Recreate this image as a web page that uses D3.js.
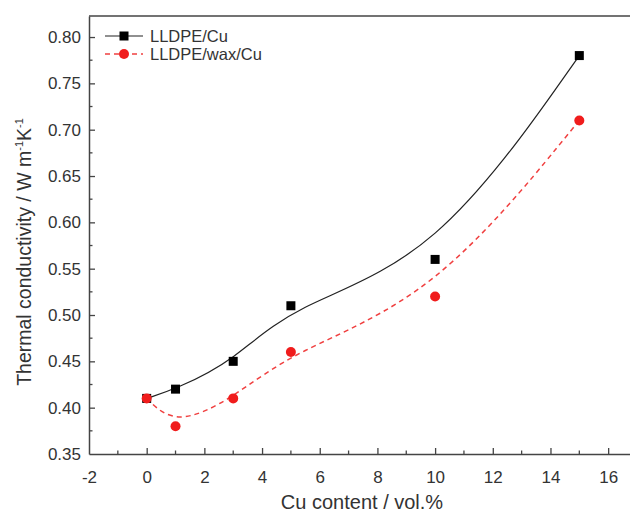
<!DOCTYPE html>
<html>
<head>
  <meta charset="utf-8">
  <style>
    body, html { margin: 0; padding: 0; background: #fff; }
    svg { display: block; }
    text { font-family: "Liberation Sans", Arial, sans-serif; fill: #333; }
  </style>
</head>
<body>
  <svg id="svg" width="630" height="513"></svg>
  <script src="https://d3js.org/d3.v7.min.js"></script>
  <script>
    const cuContent = [0, 1, 3, 5, 10, 15]
    const lldpeCu = [0.41, 0.42, 0.45, 0.51, 0.56, 0.78]
    const lldpeWaxCu = [0.41, 0.38, 0.41, 0.46, 0.52, 0.71]
    const xTicks = [-2, 0, 2, 4, 6, 8, 10, 12, 14, 16]
    const yTicks = [0.35, 0.40, 0.45, 0.50, 0.55, 0.60, 0.65, 0.70, 0.75, 0.80]
    const seriesNames = ["LLDPE/Cu", "LLDPE/wax/Cu"]

    const plotLeft = 89, plotRight = 637, plotTop = 16, plotBottom = 454
    const svg = d3.select("#svg")

    const x = d3.scaleLinear().domain([-2, 17]).range([plotLeft, plotRight])
    const y = d3.scaleLinear().domain([0.35, 0.8227]).range([plotBottom, plotTop])

    const axisColor = "#444"

    // top frame line
    svg.append("line").attr("x1", plotLeft).attr("x2", 630).attr("y1", plotTop).attr("y2", plotTop)
      .attr("stroke", axisColor).attr("stroke-width", 1.5)

    const xMinor = d3.range(-1, 17, 2)
    const yMinor = d3.range(0.375, 0.81, 0.05)

    const xAxis = d3.axisBottom(x).tickValues(xTicks).tickFormat(d => String(d))
      .tickSizeInner(-6).tickSizeOuter(0).tickPadding(17)
    const gx = svg.append("g").attr("transform", `translate(0,${plotBottom})`).call(xAxis)
    gx.selectAll(".tick").filter(d => d === -2).select("line").remove()
    gx.selectAll("line.minor").data(xMinor).enter().append("line").attr("class", "minor")
      .attr("x1", d => x(d)).attr("x2", d => x(d)).attr("y1", 0).attr("y2", -3.5)
      .attr("stroke", axisColor).attr("stroke-width", 1.3)

    const yAxis = d3.axisLeft(y).tickValues(yTicks).tickFormat(d3.format(".2f"))
      .tickSizeInner(-6).tickSizeOuter(0).tickPadding(8)
    const gy = svg.append("g").attr("transform", `translate(${plotLeft},0)`).call(yAxis)
    gy.selectAll(".tick").filter(d => d === 0.35).select("line").remove()
    gy.selectAll("line.minor").data(yMinor).enter().append("line").attr("class", "minor")
      .attr("x1", 0).attr("x2", 3.5).attr("y1", d => y(d)).attr("y2", d => y(d))
      .attr("stroke", axisColor).attr("stroke-width", 1.3)

    svg.selectAll(".domain").attr("stroke", axisColor).attr("stroke-width", 1.5)
    svg.selectAll(".tick line").attr("stroke", axisColor).attr("stroke-width", 1.3)
    svg.selectAll(".tick text").attr("font-size", 17).style("fill", "#333")
      .attr("font-family", "Liberation Sans, Arial, sans-serif")

    // axis titles
    svg.append("text")
      .attr("x", 362).attr("y", 509)
      .attr("text-anchor", "middle").attr("font-size", 20)
      .text("Cu content / vol.%")

    const yl = svg.append("text")
      .attr("transform", "translate(31,252) rotate(-90)")
      .attr("text-anchor", "middle").attr("font-size", 19.5)
    yl.append("tspan").text("Thermal conductivity / W m")
    yl.append("tspan").attr("dy", -8).attr("font-size", 11).text("-1")
    yl.append("tspan").attr("dy", 8).text("K")
    yl.append("tspan").attr("dy", -8).attr("font-size", 11).text("-1")

    // curves
    const line = d3.line()
      .x(d => x(d[0]))
      .y(d => y(d[1]))
      .curve(d3.curveBasis)

    const blackPts = cuContent.map((c, i) => [c, lldpeCu[i]])
    const redPts = cuContent.map((c, i) => [c, lldpeWaxCu[i]])

    svg.append("path").attr("d", line(blackPts))
      .attr("fill", "none").attr("stroke", "#222").attr("stroke-width", 1.2)
    svg.append("path").attr("d", line(redPts))
      .attr("fill", "none").attr("stroke", "#f04040").attr("stroke-width", 1.5)
      .attr("stroke-dasharray", "5,4")

    svg.append("g").selectAll("rect").data(blackPts).enter().append("rect")
      .attr("x", d => x(d[0]) - 4.5).attr("y", d => y(d[1]) - 4.5)
      .attr("width", 9).attr("height", 9).attr("fill", "#000")

    svg.append("g").selectAll("circle").data(redPts).enter().append("circle")
      .attr("cx", d => x(d[0])).attr("cy", d => y(d[1])).attr("r", 5)
      .attr("fill", "#f01c1c")

    // legend
    const leg = svg.append("g")
    seriesNames.forEach((name, i) => {
      const ly = 36 + i * 18
      const l = leg.append("line").attr("x1", 105).attr("x2", 143).attr("y1", ly).attr("y2", ly)
      if (i === 0) {
        l.attr("stroke", "#222").attr("stroke-width", 1.2)
        leg.append("rect").attr("x", 119.5).attr("y", ly - 4.5).attr("width", 9).attr("height", 9).attr("fill", "#000")
      } else {
        l.attr("stroke", "#f04040").attr("stroke-width", 1.5).attr("stroke-dasharray", "5,4")
        leg.append("circle").attr("cx", 124).attr("cy", ly).attr("r", 5).attr("fill", "#f01c1c")
      }
      leg.append("text").attr("x", 150).attr("y", ly + 6).attr("font-size", 16.5).text(name)
    })
  </script>
</body>
</html>
